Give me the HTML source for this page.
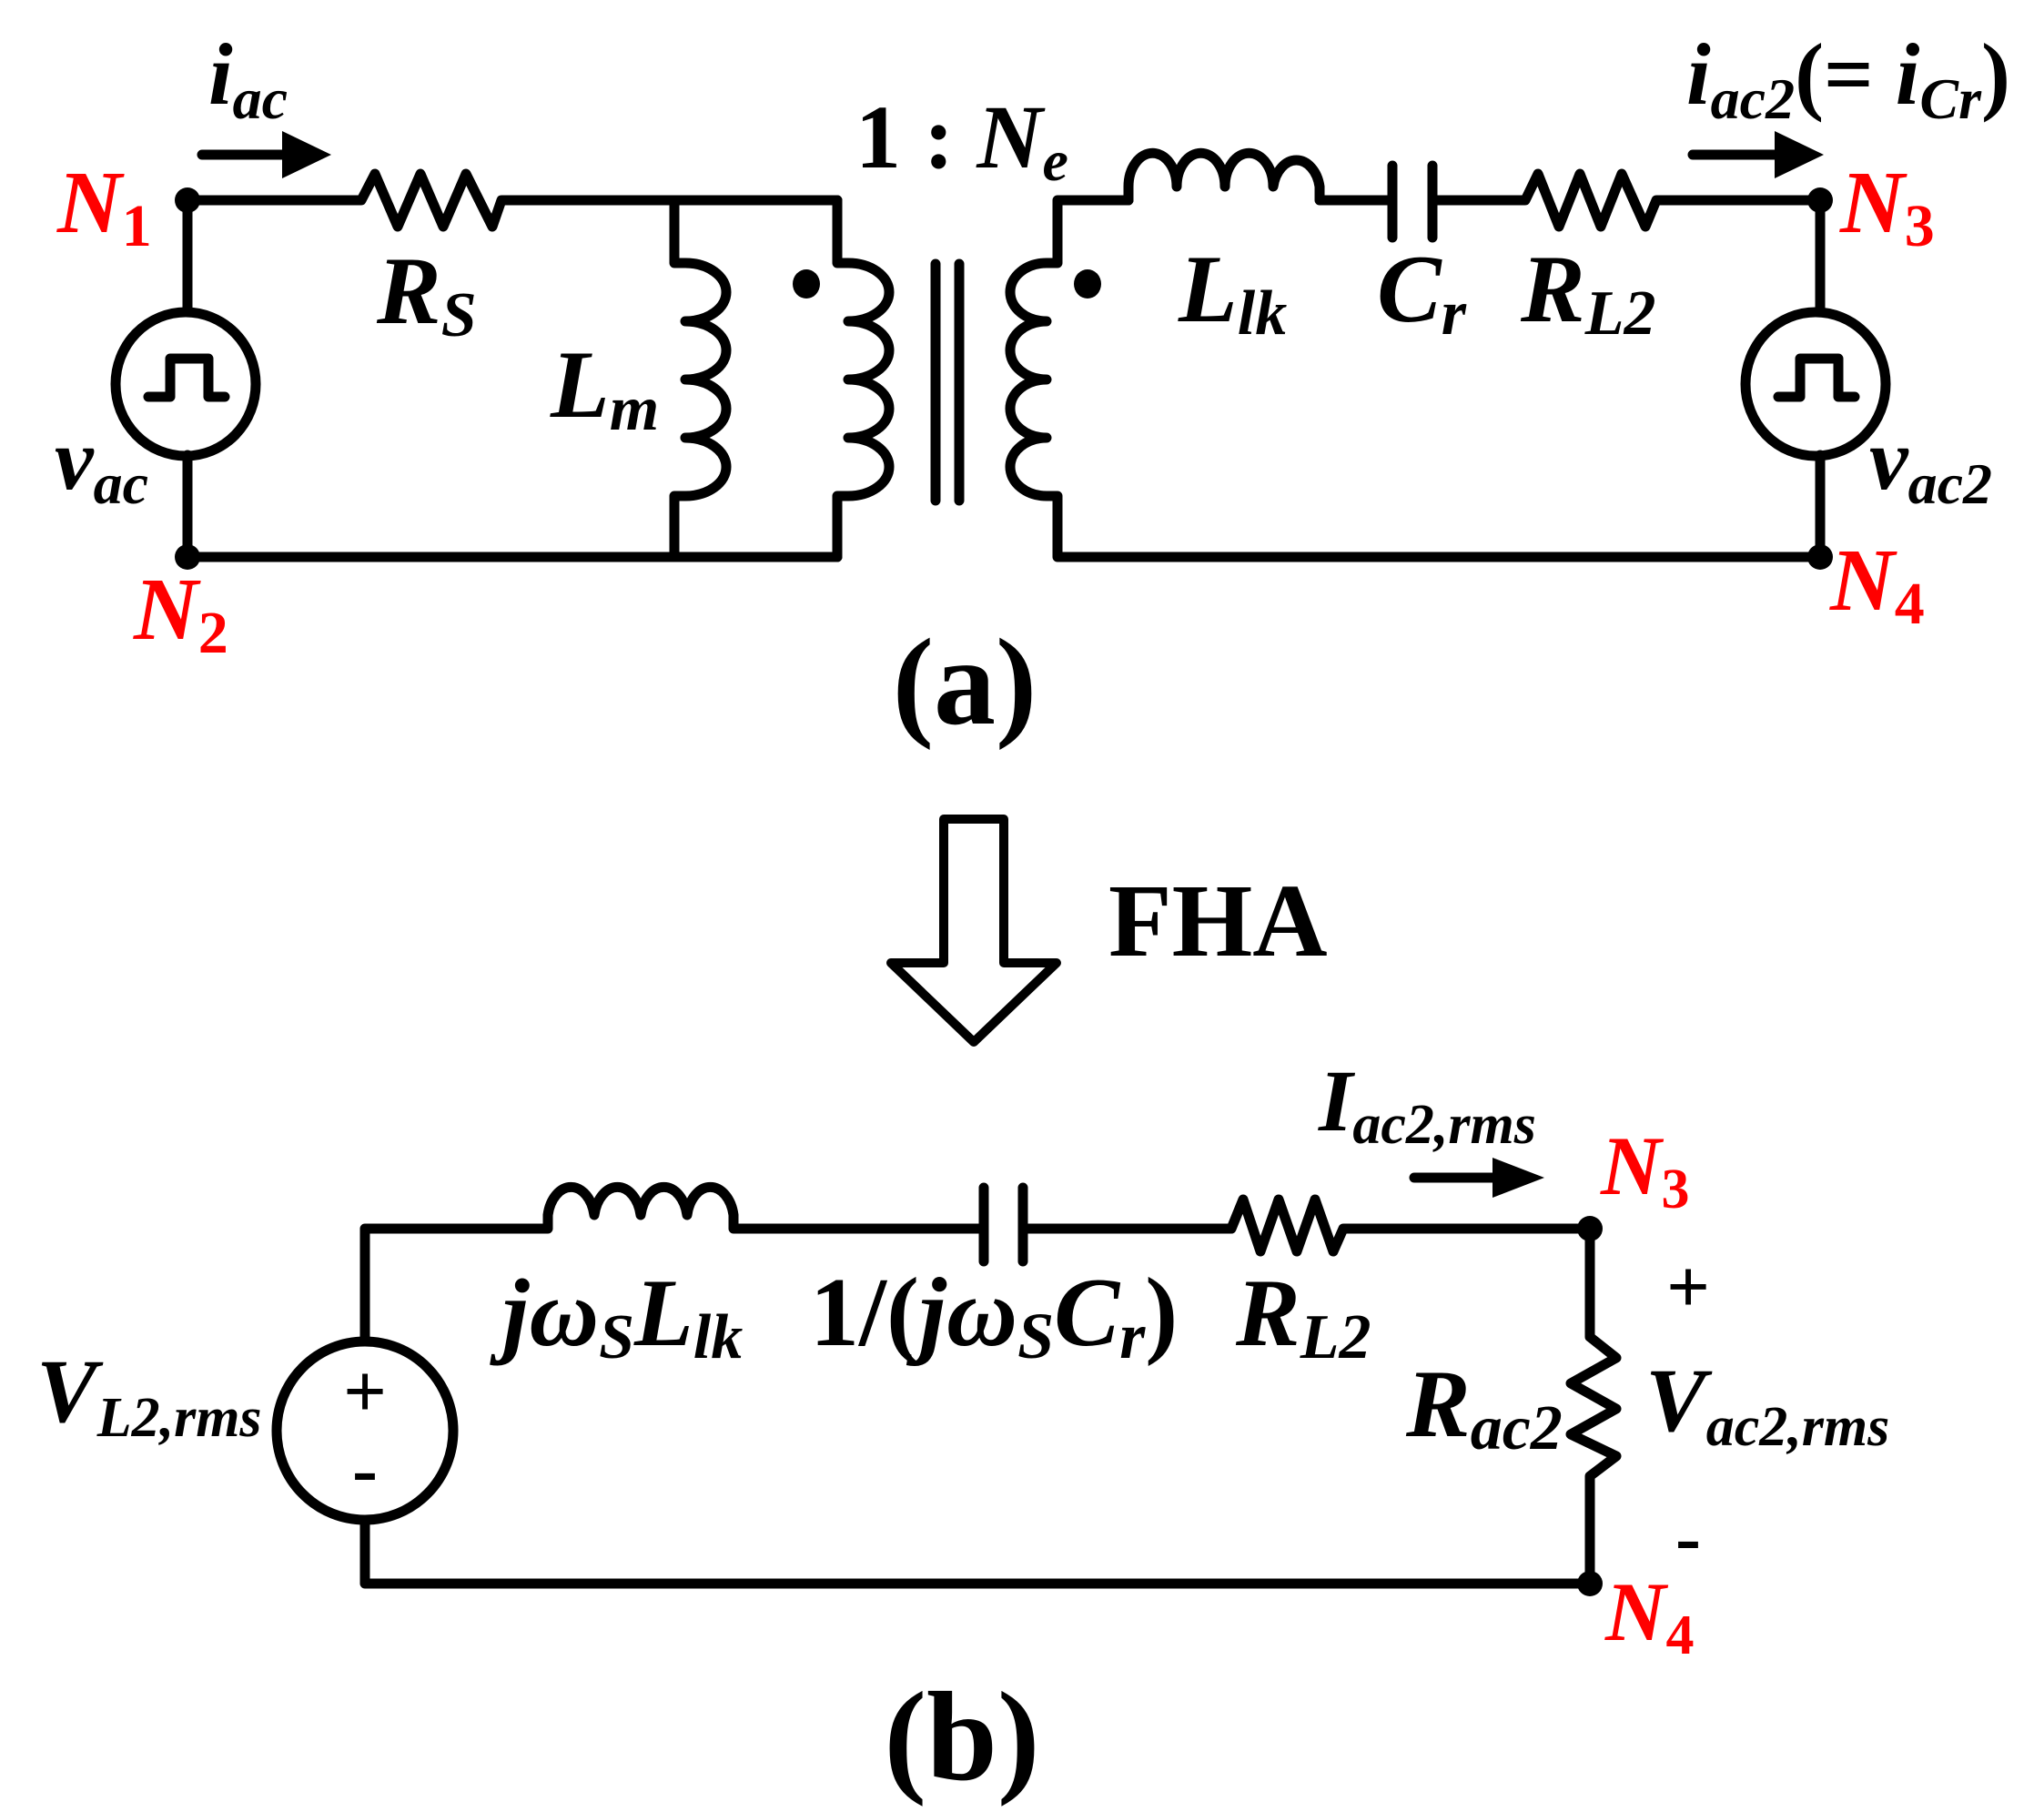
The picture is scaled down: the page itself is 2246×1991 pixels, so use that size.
<!DOCTYPE html>
<html><head><meta charset="utf-8"><style>
html,body{margin:0;padding:0;background:#fff;}
svg{display:block;}
text{font-family:"Liberation Serif",serif;font-weight:bold;}
.i{font-style:italic;}
.r{fill:#f00;}
</style></head><body>
<svg width="2246" height="1991" viewBox="0 0 2246 1991" xmlns="http://www.w3.org/2000/svg">
<g fill="none" stroke="#000" stroke-width="11" stroke-linejoin="round" stroke-linecap="round">
<path d="M206 220 H397 L412 191 L437 249 L462 191 L487 249 L512 191 L541 249 L551 220 H920"/>
<path d="M206 220 V343 M206 500 V612 H920"/>
<ellipse cx="204" cy="422" rx="77" ry="79"/>
<path d="M163 436 H187 V394 H229 V436 H247"/>
<path d="M741 220 V289 H753 A45 32 0 0 1 753 353 A45 32 0 0 1 753 417 A45 32 0 0 1 753 481 A45 32 0 0 1 753 545 H741 V612"/>
<path d="M920 220 V289 H932 A45 32 0 0 1 932 353 A45 32 0 0 1 932 417 A45 32 0 0 1 932 481 A45 32 0 0 1 932 545 H920 V612"/>
<path d="M1028 290 V550 M1054 290 V550"/>
<path d="M1240 220 H1162 V289 H1150 A40 32 0 0 0 1150 353 A40 32 0 0 0 1150 417 A40 32 0 0 0 1150 481 A40 32 0 0 0 1150 545 H1162 V612 H2000"/>
<path d="M1240 220 V205 A26 36 0 0 1 1293 205 A26 36 0 0 1 1346 205 A26 36 0 0 1 1399 205 A26 36 0 0 1 1450 205 V220 H1530"/>
<path d="M1530 182 V261 M1574 182 V261"/>
<path d="M1574 220 H1676 L1690 191 L1713 249 L1736 191 L1759 249 L1782 191 L1808 249 L1820 220 H2000 V343 M2000 500 V612"/>
<ellipse cx="1995" cy="422" rx="77" ry="79"/>
<path d="M1954 436 H1978 V394 H2020 V436 H2038"/>
<path d="M222 170 H320 M1860 170 H1960"/>
<path d="M1037 900 H1103 V1058 H1161 L1070 1145 L979 1058 H1037 Z" stroke-width="10"/>
<path d="M401 1474 V1350 H602 V1335 A26 38 0 0 1 653 1335 A26 38 0 0 1 704 1335 A26 38 0 0 1 755 1335 A26 38 0 0 1 806 1335 V1350 H1081"/>
<path d="M1081 1305 V1386 M1124 1305 V1386"/>
<path d="M1124 1350 H1353 L1366 1318 L1385 1375 L1405 1318 L1425 1375 L1445 1318 L1465 1375 L1476 1350 H1747 V1469 L1776 1492 L1726 1520 L1776 1548 L1726 1576 L1776 1600 L1747 1622 V1740 H401 V1670"/>
<ellipse cx="401" cy="1572" rx="97" ry="98"/>
<path d="M1554 1294 H1650"/>
</g>
<g fill="#000">
<circle cx="206" cy="220" r="14"/><circle cx="206" cy="612" r="14"/>
<circle cx="2000" cy="220" r="14"/><circle cx="2000" cy="612" r="14"/>
<circle cx="1747" cy="1350" r="14"/><circle cx="1747" cy="1740" r="14"/>
<ellipse cx="886" cy="312" rx="15" ry="16"/><ellipse cx="1195" cy="312" rx="15" ry="16"/>
<polygon points="310,144 364,170 310,196"/>
<polygon points="1950,144 2004,170 1950,196"/>
<polygon points="1640,1272 1697,1294 1640,1316"/>
</g>
<text x="229" y="114" font-size="96" class="i">i<tspan font-size="64" dy="16">ac</tspan></text>
<text x="63" y="255" font-size="98" class="i r">N<tspan font-size="66" dy="15" font-style="normal">1</tspan></text>
<text x="147" y="702" font-size="98" class="i r">N<tspan font-size="66" dy="15" font-style="normal">2</tspan></text>
<text x="2022" y="255" font-size="98" class="i r">N<tspan font-size="66" dy="15" font-style="normal">3</tspan></text>
<text x="2011" y="670" font-size="98" class="i r">N<tspan font-size="66" dy="15" font-style="normal">4</tspan></text>
<text x="414" y="355" font-size="106" class="i">R<tspan font-size="70" dy="14">S</tspan></text>
<text x="605" y="458" font-size="106" class="i">L<tspan font-size="70" dy="14">m</tspan></text>
<text x="60" y="537" font-size="96" class="i">v<tspan font-size="64" dy="16">ac</tspan></text>
<text x="2054" y="537" font-size="96" class="i">v<tspan font-size="64" dy="16">ac2</tspan></text>
<text x="940" y="184" font-size="100">1 : <tspan class="i">N</tspan><tspan class="i" font-size="64" dy="14">e</tspan></text>
<text x="1295" y="353" font-size="106" class="i">L<tspan font-size="70" dy="14">lk</tspan></text>
<text x="1513" y="353" font-size="106" class="i">C<tspan font-size="70" dy="14">r</tspan></text>
<text x="1671" y="353" font-size="106" class="i">R<tspan font-size="70" dy="14">L2</tspan></text>
<text x="1853" y="114" font-size="96" class="i">i<tspan font-size="64" dy="16">ac2</tspan><tspan dy="-16" font-style="normal">(= </tspan>i<tspan font-size="64" dy="16">Cr</tspan><tspan dy="-16" font-style="normal">)</tspan></text>
<text x="1060" y="795" font-size="136" text-anchor="middle">(a)</text>
<text x="1218" y="1050" font-size="114">FHA</text>
<text x="1449" y="1242" font-size="96" class="i">I<tspan font-size="62" dy="14">ac2,rms</tspan></text>
<text x="1759" y="1312" font-size="92" class="i r">N<tspan font-size="62" dy="15" font-style="normal">3</tspan></text>
<text x="1764" y="1802" font-size="92" class="i r">N<tspan font-size="62" dy="15" font-style="normal">4</tspan></text>
<text x="552" y="1478" font-size="106" class="i">jω<tspan font-size="70" dy="14">S</tspan><tspan dy="-14">L</tspan><tspan font-size="70" dy="14">lk</tspan></text>
<text x="890" y="1478" font-size="108" class="i"><tspan font-style="normal">1/(</tspan>jω<tspan font-size="72" dy="14">S</tspan><tspan dy="-14">C</tspan><tspan font-size="72" dy="14">r</tspan><tspan dy="-14" font-style="normal">)</tspan></text>
<text x="1358" y="1478" font-size="106" class="i">R<tspan font-size="70" dy="14">L2</tspan></text>
<text x="40" y="1562" font-size="100" class="i">V<tspan font-size="62" dy="16">L2,rms</tspan></text>
<text x="1545" y="1578" font-size="106" class="i">R<tspan font-size="70" dy="14">ac2</tspan></text>
<text x="1808" y="1572" font-size="100" class="i">V<tspan font-size="62" dy="16">ac2,rms</tspan></text>
<text x="1855" y="1442" font-size="84" text-anchor="middle" font-weight="normal">+</text>
<text x="1855" y="1717" font-size="84" text-anchor="middle">-</text>
<text x="401" y="1557" font-size="84" text-anchor="middle" font-weight="normal">+</text>
<text x="401" y="1642" font-size="84" text-anchor="middle">-</text>
<text x="1057" y="1955" font-size="140" text-anchor="middle">(b)</text>
</svg>
</body></html>
